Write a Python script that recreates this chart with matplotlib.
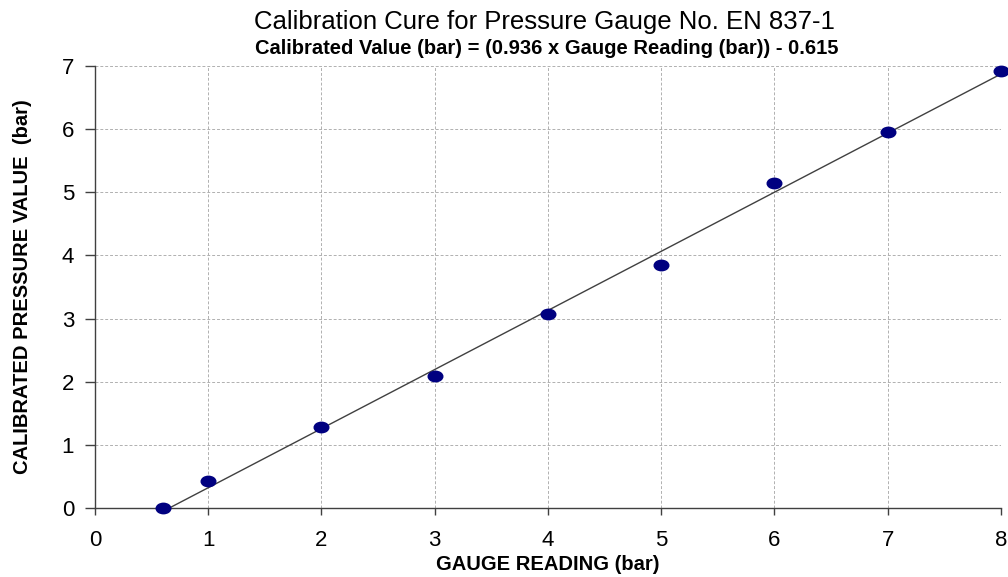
import matplotlib
matplotlib.use("Agg")
import matplotlib.pyplot as plt
import numpy as np
from matplotlib.path import Path
from matplotlib.transforms import Affine2D

gauge_reading = [0.6, 1, 2, 3, 4, 5, 6, 7, 8]
calibrated = [0.0, 0.42, 1.28, 2.09, 3.07, 3.85, 5.14, 5.95, 6.92]
slope = 0.936
intercept = -0.615
x_ticks = [0, 1, 2, 3, 4, 5, 6, 7, 8]
y_ticks = [0, 1, 2, 3, 4, 5, 6, 7]

plt.rcParams['font.family'] = ['Liberation Sans', 'DejaVu Sans']

fig = plt.figure(figsize=(10.08, 5.77), dpi=100)
ax = fig.add_axes([0.0942, 0.1196, 0.8988, 0.766])

# trendline
x0 = -intercept / slope
xl = np.array([x0, 8.0])
ax.plot(xl, slope * xl + intercept, color='#404040', lw=1.0, zorder=2)

ellipse = Path.unit_circle().transformed(Affine2D().scale(1.4, 1.0))
ax.plot(gauge_reading, calibrated, linestyle='none', marker=ellipse,
        markersize=10.5, color='#000080', zorder=3, clip_on=False)

ax.set_xlim(0, 8)
ax.set_ylim(0, 7)
ax.set_xticks(x_ticks)
ax.set_yticks(y_ticks)
ax.tick_params(axis='x', length=5, width=1, direction='out', pad=11, labelsize=16, color='#404040')
ax.tick_params(axis='y', length=7, width=1, direction='out', pad=8, labelsize=16, color='#404040')
ax.grid(True, color='#b0b0b0', linestyle=(0, (3, 2)), linewidth=0.7)
ax.set_axisbelow(True)
for s in ['top', 'right']:
    ax.spines[s].set_visible(False)
for s in ['left', 'bottom']:
    ax.spines[s].set_color('#404040')
    ax.spines[s].set_linewidth(1.0)

ax.set_xlabel('GAUGE READING (bar)', fontsize=14.5, fontweight='bold')
ax.xaxis.set_label_coords(0.5, -0.106)
ax.set_ylabel('CALIBRATED PRESSURE VALUE  (bar)', fontsize=14.5, fontweight='bold')
ax.yaxis.set_label_coords(-0.069, 0.5)

fig.text(0.54, 0.962, 'Calibration Cure for Pressure Gauge No. EN 837-1',
         ha='center', va='center', fontsize=18.5)
fig.text(0.542, 0.916, 'Calibrated Value (bar) = (0.936 x Gauge Reading (bar)) - 0.615',
         ha='center', va='center', fontsize=14.5, fontweight='bold')

fig.savefig('out.png', dpi=100)
